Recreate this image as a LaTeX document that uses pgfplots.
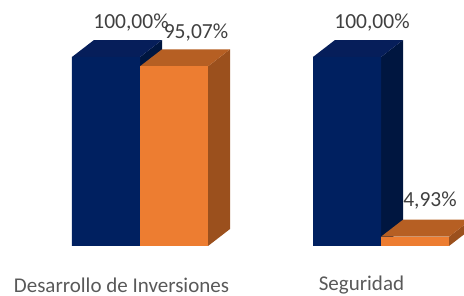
\documentclass[border=0pt]{standalone}
\usepackage{pgfplots}
\pgfplotsset{compat=1.18}
\usepackage{fontspec}
\setmainfont{Carlito}
\definecolor{bF}{RGB}{0,32,96}
\definecolor{bT}{RGB}{6,30,90}
\definecolor{bS}{RGB}{0,22,64}
\definecolor{oF}{RGB}{237,125,49}
\definecolor{oT}{RGB}{182,95,35}
\definecolor{oS}{RGB}{155,80,29}
\definecolor{lab}{RGB}{64,64,64}
\definecolor{tick}{RGB}{89,89,89}
\begin{document}
\begin{tikzpicture}
\begin{axis}[
  scale only axis, width=464pt, height=296pt,
  xmin=-0.5809, xmax=1.3444, ymin=-26.455, ymax=130.16,
  axis line style={draw=none}, major tick length=0pt,
  ytick=\empty,
  xtick={-0.0768,0.919},
  xticklabels={Desarrollo de Inversiones, Seguridad},
  xticklabel style={anchor=center, inner sep=0pt, yshift=11pt, font=\fontsize{21}{24}\selectfont, text=tick},
  clip=false,
  every node near coord/.append style={anchor=center, yshift=34pt, font=\fontsize{21.5}{24}\selectfont, text=lab},
]
% blue side faces
\addplot[fill=bS, draw=none] coordinates {(0,0) (0.0913,8.99) (0.0913,108.99) (0,100)};
\addplot[fill=bS, draw=none] coordinates {(1,0) (1.0913,8.99) (1.0913,108.99) (1,100)};
% blue top faces
\addplot[fill=bT, draw=none] coordinates {(-0.2822,100) (0,100) (0.0913,108.99) (-0.1909,108.99)};
\addplot[fill=bT, draw=none] coordinates {(0.7178,100) (1,100) (1.0913,108.99) (0.8091,108.99)};
% blue fronts
\addplot[ybar, bar width=68pt, bar shift=-34pt, fill=bF, draw=none,
  nodes near coords={\pgfmathprintnumber[fixed,fixed zerofill,precision=2,use comma,assume math mode=true]{\pgfplotspointmeta}\%},
  every node near coord/.append style={xshift=-9pt}]
  coordinates {(0,100) (1,100)};
% orange side faces
\addplot[fill=oS, draw=none] coordinates {(0.2822,0) (0.3735,8.99) (0.3735,104.06) (0.2822,95.07)};
\addplot[fill=oS, draw=none] coordinates {(1.2822,0) (1.3735,8.99) (1.3735,13.92) (1.2822,4.93)};
% orange top faces
\addplot[fill=oT, draw=none] coordinates {(0,95.07) (0.2822,95.07) (0.3735,104.06) (0.0913,104.06)};
\addplot[fill=oT, draw=none] coordinates {(1,4.93) (1.2822,4.93) (1.3735,13.92) (1.0913,13.92)};
% orange fronts
\addplot[ybar, bar width=68pt, bar shift=34pt, fill=oF, draw=none,
  nodes near coords={\pgfmathprintnumber[fixed,fixed zerofill,precision=2,use comma,assume math mode=true]{\pgfplotspointmeta}\%},
  every node near coord/.append style={xshift=56pt}]
  coordinates {(0,95.07)};
\addplot[ybar, bar width=68pt, bar shift=34pt, fill=oF, draw=none,
  nodes near coords={\pgfmathprintnumber[fixed,fixed zerofill,precision=2,use comma,assume math mode=true]{\pgfplotspointmeta}\%},
  every node near coord/.append style={xshift=49pt, yshift=2pt}]
  coordinates {(1,4.93)};
\end{axis}
\pgfresetboundingbox
\useasboundingbox (current axis.south west) rectangle (current axis.north east);
\end{tikzpicture}
\end{document}
